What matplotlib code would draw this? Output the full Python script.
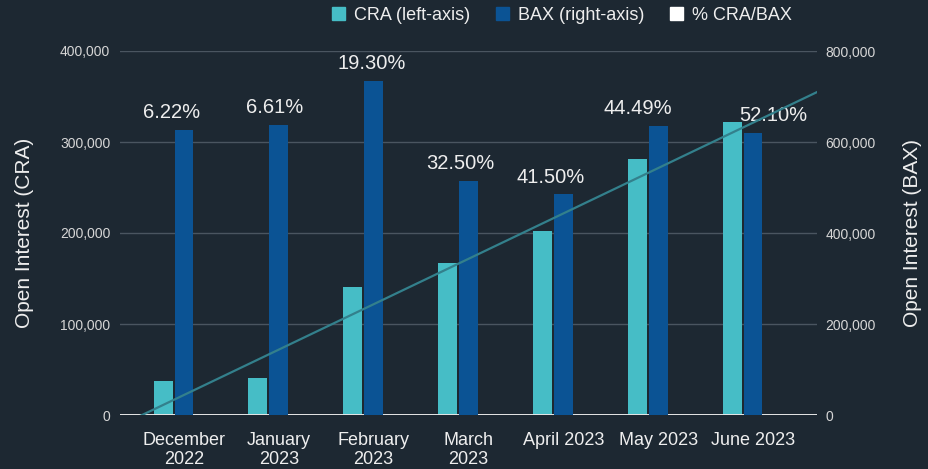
import numpy as np
import matplotlib.pyplot as plt
from matplotlib.patches import Patch

# ── data ──────────────────────────────────────────────
months = ["December\n2022", "January\n2023", "February\n2023", "March\n2023",
          "April 2023", "May 2023", "June 2023"]
cra = [37400, 40700, 140700, 167000, 202200, 281300, 322000]
bax = [626400, 637400, 734100, 514300, 485700, 635200, 619800]
pct = [6.22, 6.61, 19.30, 32.50, 41.50, 44.49, 52.10]
pct_labels = ["6.22%", "6.61%", "19.30%", "32.50%", "41.50%", "44.49%", "52.10%"]

# ── style ─────────────────────────────────────────────
BG        = "#1d2832"
CRA_COLOR = "#46bdc6"
BAX_COLOR = "#0b5394"
TREND_CLR = "#33808c"
GRID_CLR  = "#4a5560"
TEXT_CLR  = "#eeeeee"
TICK_CLR  = "#d6d6d6"
BAR_W     = 0.2
CRA_SHIFT = -0.22
LABEL_NUDGE = [-12, -4, -2, -8, -13, -20, 20]   # px nudges for data labels

plt.rcParams['font.family'] = ['Liberation Sans', 'DejaVu Sans']

fig = plt.figure(figsize=(9.29, 4.69), dpi=100, facecolor=BG)
ax = fig.add_axes([120 / 929, 54 / 469, 697 / 929, 364 / 469])
ax.set_facecolor(BG)
ax2 = ax.twinx()
ax3 = ax.twinx()

x = np.arange(len(months))

ax.bar(x + CRA_SHIFT, cra, width=BAR_W, color=CRA_COLOR, zorder=3)
ax2.bar(x, bax, width=BAR_W, color=BAX_COLOR, zorder=3)

# linear trendline of the percentage series (hidden axis)
coef = np.polyfit(x, pct, 1)
xt = np.linspace(-0.675, 6.675, 50)
ax3.plot(xt, np.polyval(coef, xt), color=TREND_CLR, lw=1.6, zorder=4)
ax3.set_ylim(0, 67.5)
ax3.axis('off')

# data labels above BAX bars
for xi, b, lb, dx in zip(x, bax, pct_labels, LABEL_NUDGE):
    ax2.annotate(lb, (xi, b), xytext=(dx, 17), textcoords='offset pixels',
                 ha='center', va='center', color=TEXT_CLR, fontsize=14.5, zorder=5)

ax.set_xlim(-0.675, 6.675)
ax.set_ylim(0, 400000)
ax2.set_ylim(0, 800000)
ax.set_yticks(np.arange(0, 400001, 100000))
ax2.set_yticks(np.arange(0, 800001, 200000))
ax.yaxis.set_major_formatter(lambda v, p: f"{int(v):,}")
ax2.yaxis.set_major_formatter(lambda v, p: f"{int(v):,}")

ax.grid(axis='y', color=GRID_CLR, lw=1, zorder=0)
ax.set_axisbelow(True)
ax.axhline(0, color="#e6e6e6", lw=1.4, zorder=5)

for a in (ax, ax2):
    for s in a.spines.values():
        s.set_visible(False)
    a.tick_params(length=0, colors=TICK_CLR, labelsize=10)
ax.tick_params(axis='y', pad=7)
ax2.tick_params(axis='y', pad=6)

ax.set_xticks(x)
ax.set_xticklabels(months, fontsize=13, color=TEXT_CLR, linespacing=1.15)
ax.tick_params(axis='x', pad=12)

ax.set_ylabel("Open Interest (CRA)", fontsize=15, color=TEXT_CLR, labelpad=19)
ax2.set_ylabel("Open Interest (BAX)", fontsize=15, color=TEXT_CLR, labelpad=20)

handles = [Patch(color=CRA_COLOR), Patch(color=BAX_COLOR), Patch(color="white")]
fig.legend(handles, ["CRA (left-axis)", "BAX (right-axis)", "% CRA/BAX"],
           loc='center', bbox_to_anchor=(562 / 929, 1 - 15 / 469), ncol=3,
           frameon=False, fontsize=13, labelcolor=TEXT_CLR,
           handlelength=0.75, handleheight=0.75, handletextpad=0.5,
           columnspacing=1.4)

fig.savefig("out.png", dpi=100, facecolor=BG)
